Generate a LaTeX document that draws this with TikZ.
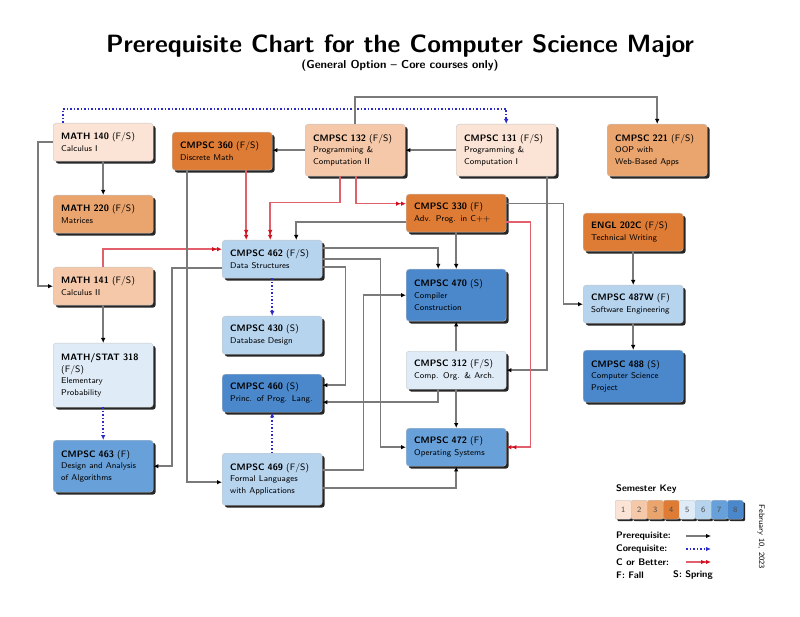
\documentclass[tikz,border=0pt]{standalone}
\usepackage{tikz}
\usetikzlibrary{arrows.meta,shadows}
\definecolor{semone}{HTML}{FBE4D5}
\definecolor{semtwo}{HTML}{F4C8A8}
\definecolor{semthree}{HTML}{EAA46E}
\definecolor{semfour}{HTML}{DE7C36}
\definecolor{semfive}{HTML}{DFECF8}
\definecolor{semsix}{HTML}{B7D4EF}
\definecolor{semseven}{HTML}{68A1DA}
\definecolor{semeight}{HTML}{4A88CB}
\definecolor{linegray}{HTML}{7A7A7A}
\definecolor{coreqblue}{HTML}{2B2BC8}
\definecolor{cobred}{HTML}{E2606C}
\definecolor{cobtip}{HTML}{D0101E}
\newcommand{\desc}{\fontsize{8.4}{11.5}\selectfont}

\begin{document}
\begin{tikzpicture}[x=1pt, y=-1pt,
    course/.style={anchor=north west, rectangle, draw=gray!45, rounded corners=3pt,
                   drop shadow={shadow xshift=2.5pt, shadow yshift=-2.5pt, fill=black, opacity=0.85},
                   minimum width=100pt, minimum height=38pt, text width=84pt,
                   inner xsep=8pt, inner ysep=3pt, align=left,
                   font=\sffamily\fontsize{9.3}{11.8}\selectfont},
    tall/.style={minimum height=52pt},
    sem1/.style={fill=semone}, sem2/.style={fill=semtwo},
    sem3/.style={fill=semthree}, sem4/.style={fill=semfour},
    sem5/.style={fill=semfive}, sem6/.style={fill=semsix},
    sem7/.style={fill=semseven}, sem8/.style={fill=semeight},
    keybox/.style={anchor=north west, rectangle, draw=gray!45, rounded corners=2pt,
                   drop shadow={shadow xshift=2pt, shadow yshift=-2pt, fill=black, opacity=0.85},
                   minimum width=16pt, minimum height=19pt, inner sep=0pt,
                   text=black!70, font=\sffamily\fontsize{8}{9}\selectfont},
    keytext/.style={anchor=west, inner sep=0pt, font=\sffamily\bfseries\fontsize{9.5}{11}\selectfont},
    prereq/.style={draw=linegray, line width=1.5pt, -{Latex[length=5pt, width=4.5pt, color=black]}},
    coreq/.style={draw=coreqblue, line width=1.5pt, dotted, -{Latex[length=5pt, width=4.5pt]}},
    cbetter/.style={draw=cobred, line width=1.5pt,
                    -{Latex[length=5pt, width=4.5pt, color=cobtip]Latex[length=5pt, width=4.5pt, color=cobtip]}}
]
\useasboundingbox (0,0) rectangle (800,617);

\node[font=\sffamily\bfseries\fontsize{25}{28}\selectfont] (title) at (400,46)
    {Prerequisite Chart for the Computer Science Major};
\node[font=\sffamily\bfseries\fontsize{11.5}{13}\selectfont] (subtitle) at (400,66)
    {(General Option -- Core courses only)};

\node[course,sem1] (m140) at (53,123) {\textbf{MATH 140} (F/S)\\\desc Calculus I};
\node[course,sem3] (m220) at (53,195) {\textbf{MATH 220} (F/S)\\\desc Matrices};
\node[course,sem4] (cs360) at (172,132) {\textbf{CMPSC 360} (F/S)\\\desc Discrete Math};
\node[course,tall,sem2] (cs132) at (305,124) {\textbf{CMPSC 132} (F/S)\\\desc Programming \&\\Computation II};
\node[course,tall,sem1] (cs131) at (456,124) {\textbf{CMPSC 131} (F/S)\\\desc Programming \&\\Computation I};
\node[course,tall,sem3] (cs221) at (607,124) {\textbf{CMPSC 221} (F/S)\\\desc OOP with\\Web-Based Apps};
\node[course,sem4] (cs330) at (406,194) {\textbf{CMPSC 330} (F)\\\desc Adv. Prog. in C++};
\node[course,sem4] (en202) at (583,213) {\textbf{ENGL 202C} (F/S)\\\desc Technical Writing};
\node[course,sem2] (m141) at (53,267) {\textbf{MATH 141} (F/S)\\\desc Calculus II};
\node[course,sem6] (cs462) at (222,240) {\textbf{CMPSC 462} (F/S)\\\desc Data Structures};
\node[course,tall,sem8] (cs470) at (406,269) {\textbf{CMPSC 470} (S)\\\desc Compiler\\Construction};
\node[course,sem6] (cs487) at (583,285) {\textbf{CMPSC 487W} (F)\\\desc Software Engineering};
\node[course,sem6] (cs430) at (222,316) {\textbf{CMPSC 430} (S)\\\desc Database Design};
\node[course,sem5,minimum height=64pt] (ms318) at (53,343) {\textbf{MATH/STAT 318}\\(F/S)\\\desc Elementary\\Probability};
\node[course,sem5] (cs312) at (406,351) {\textbf{CMPSC 312} (F/S)\\\desc Comp. Org. \& Arch.};
\node[course,tall,sem8] (cs488) at (583,350) {\textbf{CMPSC 488} (S)\\\desc Computer Science\\Project};
\node[course,sem8] (cs460) at (222,374) {\textbf{CMPSC 460} (S)\\\desc Princ. of Prog. Lang.};
\node[course,tall,sem7] (cs463) at (53,440) {\textbf{CMPSC 463} (F)\\\desc Design and Analysis\\of Algorithms};
\node[course,sem7] (cs472) at (406,428) {\textbf{CMPSC 472} (F)\\\desc Operating Systems};
\node[course,tall,sem6] (cs469) at (222,453) {\textbf{CMPSC 469} (F/S)\\\desc Formal Languages\\with Applications};

\draw[coreq] ([xshift=-40pt]m140.north) -- ++(0,-14) -| (cs131.north);
\draw[prereq] (cs132.north) -- ++(0,-27) -| (cs221.north);
\draw[prereq] (cs131.west) -- (cs132.east);
\draw[prereq] (cs132.west) -- (cs132.west -| cs360.east);
\draw[prereq] (m140.west) -- ++(-15,0) |- (m141.west);
\draw[prereq] (m140) -- (m220);
\draw[prereq] (m141) -- (ms318);
\draw[coreq] (ms318) -- (cs463);
\draw[cbetter] (m141.north) |- ([yshift=10pt]cs462.west);
\draw[cbetter] ([xshift=24pt]cs360.south) -- ([xshift=-26pt]cs462.north);
\draw[cbetter] ([xshift=-15pt]cs132.south) -- ++(0,26) -| ([xshift=-2pt]cs462.north);
\draw[cbetter] ([xshift=1pt]cs132.south) |- ([yshift=9.5pt]cs330.west);
\draw[prereq] ([yshift=-9pt]cs330.west) -| ([xshift=24pt]cs462.north);
\draw[prereq] ([xshift=-35pt]cs360.south) |- ([yshift=-3pt]cs469.west);
\draw[prereq] ([yshift=-9pt]cs462.west) -- ++(-50,0) |- (cs463.east);
\draw[prereq] ([yshift=-8pt]cs462.east) -- ++(23,0) |- ([yshift=8pt]cs460.east);
\draw[prereq] (cs462.east) -- ++(58,0) |- (cs472.west);
\draw[prereq] ([yshift=11pt]cs462.east) -| ([xshift=-18pt]cs470.north);
\draw[coreq] (cs462) -- (cs430);
\draw[prereq] (cs330) -- (cs470);
\draw[prereq] ([yshift=9pt]cs469.east) -- ++(41,0) |- (cs470.west);
\draw[prereq] (cs312) -- (cs470);
\draw[prereq] (cs312) -- (cs472);
\draw[prereq] ([xshift=-18pt]cs312.south) |- ([yshift=-9pt]cs460.east);
\draw[prereq] ([yshift=-9pt]cs469.east) -| (cs472.south);
\draw[coreq] (cs469) -- (cs460);
\draw[prereq] ([xshift=41pt]cs131.south) |- (cs312.east);
\draw[prereq] ([yshift=9.5pt]cs330.east) -- ++(57,0) |- (cs487.west);
\draw[cbetter] ([yshift=-9pt]cs330.east) -- ++(24,0) |- (cs472.east);
\draw[prereq] (en202) -- (cs487);
\draw[prereq] (cs487) -- (cs488);

\node[keytext] (keytitle) at (616,489) {Semester Key};
\node[keybox,sem1] (k1) at (615,500) {1};
\node[keybox,sem2] (k2) at (631,500) {2};
\node[keybox,sem3] (k3) at (647,500) {3};
\node[keybox,sem4] (k4) at (663,500) {4};
\node[keybox,sem5] (k5) at (679,500) {5};
\node[keybox,sem6] (k6) at (695,500) {6};
\node[keybox,sem7] (k7) at (711,500) {7};
\node[keybox,sem8] (k8) at (727,500) {8};

\node[keytext] (lpre) at (616,536) {Prerequisite:};
\node[keytext] (lco) at (616,549) {Corequisite:};
\node[keytext] (lcob) at (616,562) {C or Better:};
\node[keytext] (lfall) at (616,575) {F: Fall};
\node[keytext] (lspring) at (673,575) {S: Spring};
\coordinate (preA) at (686,536);
\coordinate (preB) at (711,536);
\coordinate (coA) at (686,549);
\coordinate (coB) at (711,549);
\coordinate (cobA) at (686,562);
\coordinate (cobB) at (711,562);
\draw[prereq] (preA) -- (preB);
\draw[coreq] (coA) -- (coB);
\draw[cbetter] (cobA) -- (cobB);

\node[rotate=-90, font=\sffamily\fontsize{8}{9}\selectfont] (date) at (761,537) {February 10, 2023};
\end{tikzpicture}
\end{document}
